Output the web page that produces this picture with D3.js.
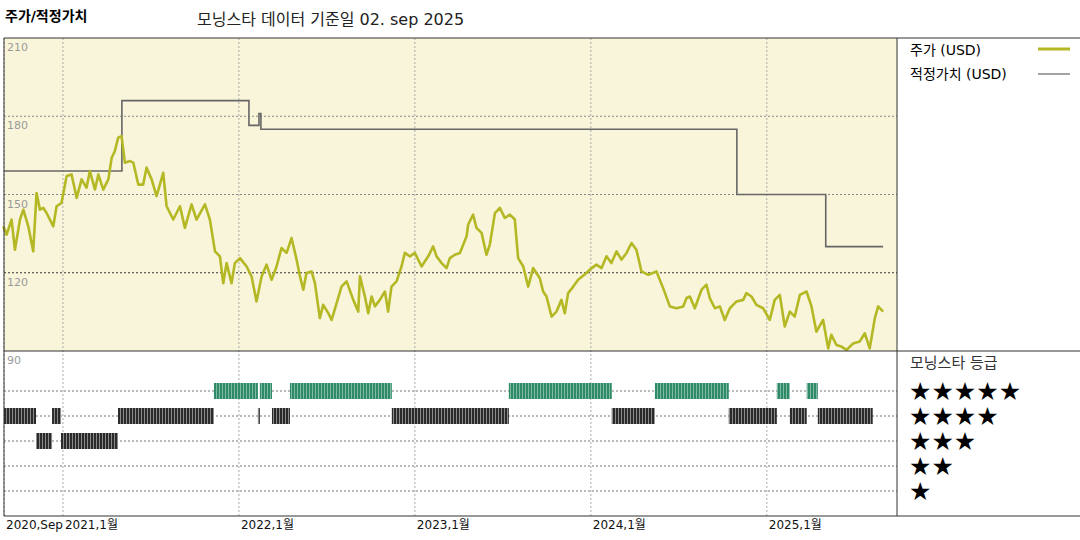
<!DOCTYPE html>
<html><head><meta charset="utf-8">
<script src="https://cdn.jsdelivr.net/npm/d3@7"></script>
<style>body{margin:0;background:#fff}svg{font-family:"DejaVu Sans","Noto Sans CJK KR",sans-serif}</style>
</head><body><svg id="c" width="1080" height="540"></svg>
<script>
// price (decimal year, USD)
var priceYears = [2020.661,2020.680,2020.708,2020.727,2020.756,2020.775,2020.803,2020.831,2020.850,2020.869,2020.888,2020.907,2020.945,2020.964,2020.992,
2021.021,2021.049,2021.078,2021.106,2021.134,2021.153,2021.182,2021.201,2021.229,2021.258,2021.277,2021.295,2021.314,2021.333,2021.352,2021.381,2021.400,2021.428,2021.456,2021.475,2021.504,2021.532,2021.570,2021.589,2021.627,2021.665,2021.693,2021.731,2021.759,2021.807,2021.835,2021.864,2021.892,2021.911,2021.930,2021.958,2021.977,
2022.006,2022.044,2022.072,2022.100,2022.129,2022.157,2022.186,2022.214,2022.242,2022.271,2022.299,2022.328,2022.347,2022.366,2022.384,2022.413,2022.432,2022.460,2022.479,2022.508,2022.527,2022.555,2022.583,2022.612,2022.650,2022.678,2022.688,2022.716,2022.735,2022.754,2022.773,2022.801,2022.830,2022.848,2022.867,2022.896,2022.924,2022.943,2022.972,
2023.000,2023.038,2023.076,2023.104,2023.123,2023.152,2023.180,2023.199,2023.227,2023.256,2023.294,2023.303,2023.331,2023.350,2023.379,2023.407,2023.426,2023.455,2023.483,2023.511,2023.540,2023.568,2023.587,2023.616,2023.644,2023.672,2023.710,2023.729,2023.748,2023.777,2023.805,2023.833,2023.852,2023.871,2023.900,2023.928,2023.975,
2023.994,2024.032,2024.061,2024.089,2024.117,2024.146,2024.174,2024.203,2024.231,2024.259,2024.288,2024.326,2024.373,2024.411,2024.449,2024.487,2024.525,2024.544,2024.563,2024.591,2024.629,2024.657,2024.676,2024.705,2024.733,2024.761,2024.790,2024.828,2024.866,2024.884,2024.913,2024.941,2024.979,
2025.017,2025.045,2025.074,2025.102,2025.131,2025.159,2025.188,2025.226,2025.254,2025.282,2025.320,2025.349,2025.367,2025.396,2025.424,2025.453,2025.491,2025.528,2025.557,2025.585,2025.614,2025.633,2025.661];
var priceValues = [137.8,134.6,140.4,128.8,140.4,144.2,137.8,128.2,150.6,144.2,144.9,142.9,137.8,145.5,146.8,
157.1,157.7,148.7,155.8,152.6,159,151.9,157.7,151.9,155.8,164.1,166.7,171.8,172.4,162.2,162.8,162.2,153.8,153.8,160.3,155.8,149.4,158.3,145.5,140.4,145.5,137.2,146.2,140.4,146.2,140.4,128.2,126.3,116,123.7,116,123.7,
125.6,122.4,118.6,109,118.6,123.1,117.3,122.4,129.5,127.6,133.3,125,118.6,113.5,119.9,120.5,116,102.6,107.7,104.5,101.9,108.3,114.7,116.7,109.6,105.1,118.6,110.9,104.5,110.9,107.1,109.6,112.8,105.1,114.7,116.7,122.4,127.6,126.3,
127.6,122.4,126.3,130.1,126.3,123.7,121.8,125.6,126.9,127.6,134,138.5,142.3,137.2,135.3,126.9,130.8,142.9,144.9,141,142.3,140.4,125.6,122.4,114.7,121.8,117.9,112.8,110.9,103.2,105.1,109.6,104.5,112.2,114.7,117.3,119.9,
121.2,123.1,121.8,126.3,123.7,128.2,125,127.6,131.4,128.8,120.5,119.2,120.5,114.1,107.1,106.4,107.1,110.3,110.9,106.4,113.5,115.4,110.3,106.4,107.1,101.9,106.4,109,109.6,112.2,110.9,107.7,106.4,
101.9,109.6,111.5,99.4,105.1,103.2,111.5,112.8,107.1,97.4,101.9,91,96.2,92.3,91.7,90.4,92.9,93.6,96.8,91,102.6,107.1,105.1];

// fair value steps
var fairYears = [2020.665,2021.335,2022.057,2022.114,2022.125,2024.830,2025.335,2025.661];
var fairValues = [159,186,176.5,181,175,150,130,130];

// morningstar rating periods
var ratingStart = [2021.858,2022.119,2022.290,2023.534,2024.364,2025.057,2025.227,
  2020.665,2020.938,2021.313,2022.108,2022.188,2022.869,2024.119,2024.784,2025.131,2025.290,
  2020.847,2020.989];
var ratingEnd = [2022.108,2022.188,2022.869,2024.119,2024.784,2025.131,2025.290,
  2020.847,2020.989,2021.858,2022.119,2022.290,2023.534,2024.364,2025.057,2025.227,2025.602,
  2020.938,2021.313];
var ratingStars = [5,5,5,5,5,5,5, 4,4,4,4,4,4,4,4,4,4, 3,3];

var yTicks = [210,180,150,120,90];
var xTicks = [2020.665,2021,2022,2023,2024,2025];
var xLabels = ["2020,Sep","2021,1월","2022,1월","2023,1월","2024,1월","2025,1월"];
var starRows = [5,4,3,2,1];

var svg = d3.select("#c");
var L = 4, R = 897, T = 38, M = 351, B = 516;
var x = d3.scaleLinear().domain([2020.665, 2025.74]).range([L, R]);
var y = d3.scaleLinear().domain([90, 210]).range([M, T]);
var ys = d3.scalePoint().domain(starRows).range([391, 491]);

var defs = svg.append("defs");
function stripes(id, a, b) {
  var p = defs.append("pattern").attr("id", id).attr("width", 3).attr("height", 4).attr("patternUnits", "userSpaceOnUse");
  p.append("rect").attr("width", 3).attr("height", 4).attr("fill", a);
  p.append("rect").attr("width", 1).attr("height", 4).attr("fill", b);
}
stripes("pg", "#2f8a68", "#7fb9a2");
stripes("pk", "#2a2a2a", "#8a8a8a");

svg.append("text").attr("x", 5).attr("y", 21).attr("font-size", 14).attr("font-weight", "bold").text("주가/적정가치");
svg.append("text").attr("x", 197).attr("y", 25).attr("font-size", 16).attr("fill", "#222").text("모닝스타 데이터 기준일 02. sep 2025");

svg.append("rect").attr("x", L).attr("y", T).attr("width", R - L).attr("height", M - T).attr("fill", "#f9f5da");

// gridlines
svg.selectAll(".hg").data(yTicks.slice(1, 4)).enter().append("line")
  .attr("x1", L).attr("x2", R).attr("y1", d => y(d)).attr("y2", d => y(d))
  .attr("stroke", d => d == 120 ? "#333" : "#888").attr("stroke-dasharray", "2,2");
svg.selectAll(".rg").data(starRows).enter().append("line")
  .attr("x1", L).attr("x2", R).attr("y1", d => ys(d)).attr("y2", d => ys(d))
  .attr("stroke", "#777").attr("stroke-dasharray", "2,2");
svg.selectAll(".vg").data(xTicks).enter().append("line")
  .attr("x1", d => x(d)).attr("x2", d => x(d)).attr("y1", T).attr("y2", B)
  .attr("stroke", "#aaa").attr("stroke-dasharray", "2,2");

svg.selectAll(".yl").data(yTicks).enter().append("text")
  .attr("x", 7).attr("y", d => y(d) + 13).attr("font-size", 11).attr("fill", "#999").text(d => d);

// fair value
svg.append("path").datum(fairYears.map((d, i) => [d, fairValues[i]]))
  .attr("d", d3.line().x(d => x(d[0])).y(d => y(d[1])).curve(d3.curveStepAfter))
  .attr("fill", "none").attr("stroke", "#666").attr("stroke-width", 1.6);

// price
svg.append("path").datum(priceYears.map((d, i) => [d, priceValues[i]]))
  .attr("d", d3.line().x(d => x(d[0])).y(d => y(d[1])))
  .attr("fill", "none").attr("stroke", "#b3b824").attr("stroke-width", 2.6).attr("stroke-linejoin", "round");

// rating bars
svg.selectAll(".rb").data(ratingStars).enter().append("rect")
  .attr("x", (d, i) => x(ratingStart[i])).attr("width", (d, i) => Math.max(1.5, x(ratingEnd[i]) - x(ratingStart[i])))
  .attr("y", d => ys(d) - 8).attr("height", 16)
  .attr("fill", d => d == 5 ? "url(#pg)" : "url(#pk)");

// frame
[[L, T, 1080, T], [L, M, 1080, M], [L, B, 1080, B], [L, T, L, B], [R, T, R, B]].forEach(function (l) {
  svg.append("line").attr("x1", l[0]).attr("y1", l[1]).attr("x2", l[2]).attr("y2", l[3]).attr("stroke", "#333").attr("stroke-width", 1);
});

svg.selectAll(".xl").data(xTicks).enter().append("text")
  .attr("x", d => x(d) + 2).attr("y", 529).attr("font-size", 12).attr("fill", "#111").text((d, i) => xLabels[i]);

// legend
svg.append("text").attr("x", 910).attr("y", 55).attr("font-size", 14).text("주가 (USD)");
svg.append("line").attr("x1", 1038).attr("x2", 1070).attr("y1", 49).attr("y2", 49).attr("stroke", "#b3b824").attr("stroke-width", 3);
svg.append("text").attr("x", 910).attr("y", 79).attr("font-size", 14).text("적정가치 (USD)");
svg.append("line").attr("x1", 1038).attr("x2", 1070).attr("y1", 74).attr("y2", 74).attr("stroke", "#666").attr("stroke-width", 1.2);
svg.append("text").attr("x", 910).attr("y", 368).attr("font-size", 15).attr("fill", "#333").text("모닝스타 등급");
svg.selectAll(".st").data(starRows).enter().append("text")
  .attr("x", 909).attr("y", d => ys(d) + 9).attr("font-size", 25).text(d => "★".repeat(d));
</script></body></html>
